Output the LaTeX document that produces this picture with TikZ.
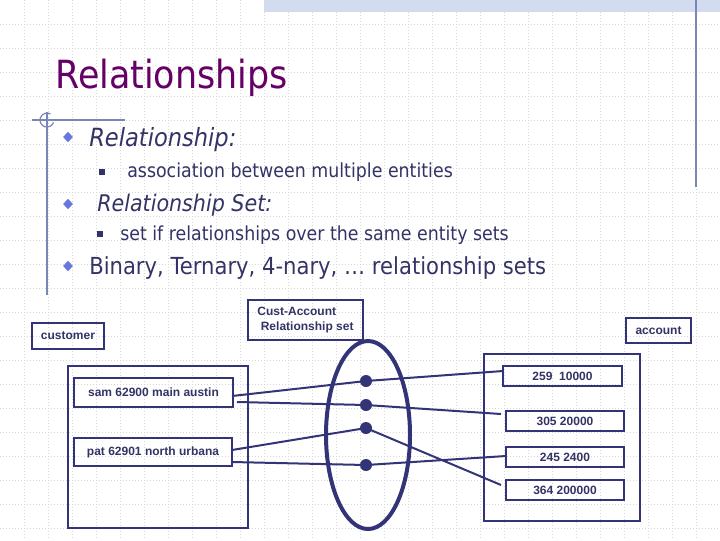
\documentclass[tikz,border=0pt]{standalone}
\usepackage{fontspec}
\setmainfont{DejaVu Sans}[FakeStretch=0.9]
\newfontfamily\arialf{Liberation Sans}
\usetikzlibrary{shapes.geometric}
\definecolor{titlec}{HTML}{660066}
\definecolor{bodyc}{HTML}{333366}
\definecolor{bulc}{HTML}{6677DD}
\definecolor{navy}{HTML}{333377}
\definecolor{gridc}{HTML}{D6D6D6}
\definecolor{decoc}{HTML}{7B86B8}
\definecolor{bandc}{HTML}{D3DCEE}
\tikzset{
  gridline/.style={gridc, line width=0.75pt, dash pattern=on 0.75pt off 1.5pt},
  deco/.style={decoc, line width=0.9pt},
  lvlone/.style={anchor=base west, inner sep=0pt, text=bodyc, font=\fontsize{17.6pt}{20pt}\selectfont},
  lvltwo/.style={anchor=base west, inner sep=0pt, text=bodyc, font=\fontsize{14.5pt}{17pt}\selectfont},
  dbul/.style={diamond, fill=bulc, inner sep=0pt, minimum width=7.5pt, minimum height=8pt},
  sbul/.style={rectangle, fill=bodyc, inner sep=0pt, minimum size=4.5pt},
  ebox/.style={draw=navy, line width=2.2pt, inner sep=0pt, text=bodyc, font=\arialf\bfseries\fontsize{9pt}{11pt}\selectfont},
  conn/.style={navy, line width=1.5pt},
  rdot/.style={circle, fill=navy, inner sep=0pt, minimum size=9pt},
}
\begin{document}
\begin{tikzpicture}[x=0.75pt, y=-0.75pt]
\useasboundingbox (0,0) rectangle (720,540);
\fill[white] (0,0) rectangle (720,540);
% grid
\foreach \gx in {24,48,...,708} { \draw[gridline] (\gx,0) -- (\gx,540); }
\foreach \gy in {24,48,...,528} { \draw[gridline] (0,\gy) -- (720,\gy); }
% top band
\fill[bandc] (264,0) rectangle (720,12);
% right line
\draw[decoc, line width=1.2pt] (696,0) -- (696,187);
% left decoration
\draw[deco] (47,112) -- (47,295);
\draw[deco] (32,120) -- (125,120);
\draw[deco] (47,120) ++(20:7) arc (20:300:7);
% title
\node[anchor=base west, inner sep=0pt, text=titlec, font=\fontsize{29.1pt}{35pt}\selectfont] (title) at (55,88) {Relationships};
% bullets
\node[dbul] (b1) at (68,137) {};
\node[lvlone, font=\fontsize{18.8pt}{21pt}\selectfont\itshape] (t1) at (89,146) {Relationship:};
\node[sbul] (s1b) at (102,172) {};
\node[lvltwo] (t2) at (127,177) {association between multiple entities};
\node[dbul] (b2) at (68,204) {};
\node[lvlone, font=\fontsize{17.2pt}{20pt}\selectfont\itshape] (t3) at (97,211) {Relationship Set:};
\node[sbul] (s2b) at (100,234) {};
\node[lvltwo] (t4) at (120,240) {set if relationships over the same entity sets};
\node[dbul] (b3) at (68,266) {};
\node[lvlone] (t5) at (89,274) {Binary, Ternary, 4-nary, … relationship sets};
% diagram boxes
\node[ebox, minimum width=0.75*72pt, minimum height=0.75*26pt] (customer) at (68,336) {customer};
\node[ebox, minimum width=0.75*180pt, minimum height=0.75*162pt] (custset) at (158,447) {};
\node[ebox, minimum width=0.75*159pt, minimum height=0.75*29pt] (sam) at (153.5,392.5) {sam 62900 main austin};
\node[ebox, minimum width=0.75*158pt, minimum height=0.75*28pt] (pat) at (153,452) {pat 62901 north urbana};
\node[ebox, minimum width=0.75*115pt, minimum height=0.75*40pt, align=left] (rel) at (305.5,320) {Cust-Account\\\ Relationship set};
\node[ebox, minimum width=0.75*65pt, minimum height=0.75*25pt] (account) at (658.5,330.5) {account};
\node[ebox, minimum width=0.75*156pt, minimum height=0.75*167pt] (accset) at (562,437.5) {};
\node[ebox, minimum width=0.75*119pt, minimum height=0.75*20pt] (a259) at (562.5,376) {259\ \ 10000};
\node[ebox, minimum width=0.75*118pt, minimum height=0.75*20pt] (a305) at (565,421) {305 20000};
\node[ebox, minimum width=0.75*118pt, minimum height=0.75*20pt] (a245) at (565,457) {245 2400};
\node[ebox, minimum width=0.75*118pt, minimum height=0.75*20pt] (a364) at (565,490) {364 200000};
% relationship ellipse
\node[ellipse, draw=navy, line width=3pt, minimum width=0.75*84pt, minimum height=0.75*188pt, inner sep=0pt] (relset) at (368,435) {};
% dots
\node[rdot] (d1) at (366,381) {};
\node[rdot] (d2) at (366,405) {};
\node[rdot] (d3) at (366,428) {};
\node[rdot] (d4) at (366,465) {};
% connector end points
\coordinate (s1) at (232,396);
\coordinate (s2) at (237,402);
\coordinate (p1) at (232,450);
\coordinate (p2) at (232,462);
\coordinate (e1) at (503,371);
\coordinate (e2) at (501,414);
\coordinate (e3) at (501,485);
\coordinate (e4) at (506,456);
\draw[conn] (s1) -- (d1.center) -- (e1);
\draw[conn] (s2) -- (d2.center) -- (e2);
\draw[conn] (p1) -- (d3.center) -- (e3);
\draw[conn] (p2) -- (d4.center) -- (e4);
\end{tikzpicture}
\end{document}
